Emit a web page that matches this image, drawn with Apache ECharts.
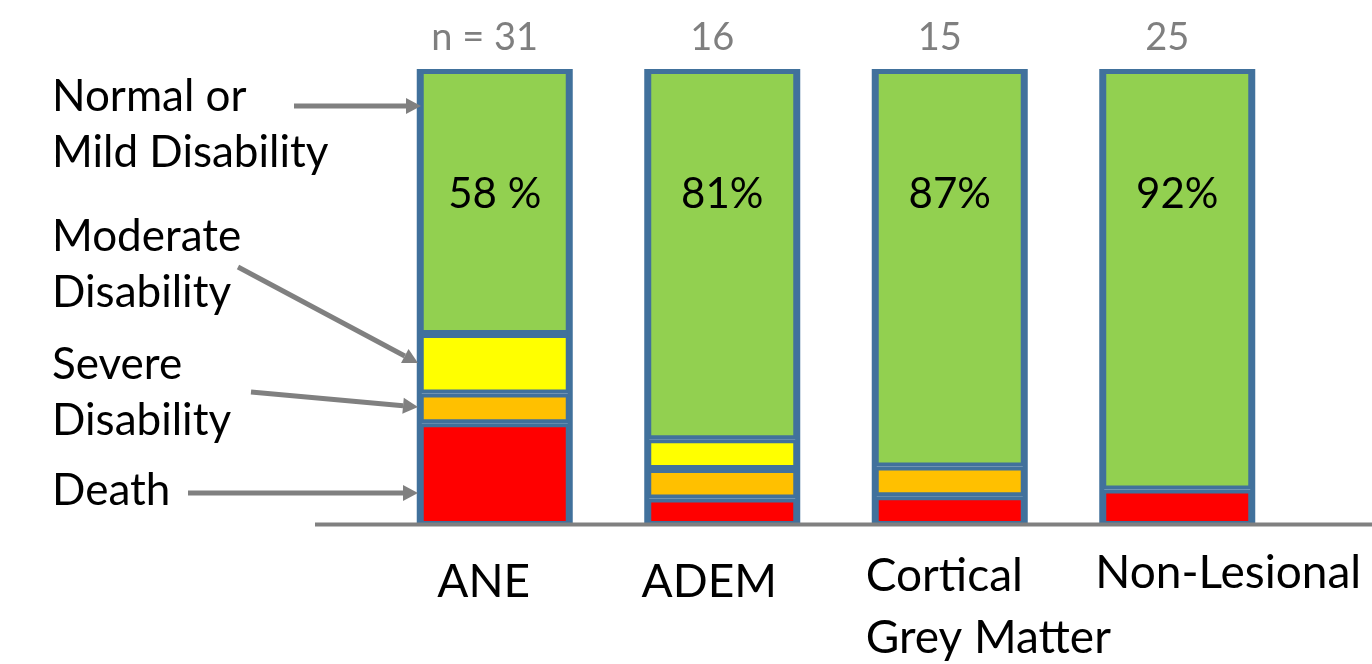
<!DOCTYPE html>
<html><head><meta charset="utf-8">
<script src="https://cdn.jsdelivr.net/npm/echarts@6/dist/echarts.min.js"></script>
<style>html,body{margin:0;padding:0;background:#fff}#c{width:1372px;height:664px}</style>
</head><body><div id="c"></div>
<script>
// ---- data ----
const categories = ['ANE', 'ADEM', 'Cortical\nGrey Matter', 'Non-Lesional'];
const nLabels = ['n = 31', '16', '15', '25'];
const pctLabels = ['58 %', '81%', '87%', '92%'];
const normalMild = [58, 81, 87, 92];
const moderate = [13, 6.5, 0, 0];
const severe = [6.5, 6.5, 6.5, 0];
const death = [22.5, 6, 6.5, 8];
const outcomeNames = ['Normal or\nMild Disability', 'Moderate\nDisability', 'Severe\nDisability', 'Death'];

// ---- chart ----
const FONT = 'Lato';
const chart = echarts.init(document.getElementById('c'), null, {renderer: 'canvas'});
const border = '#41719C';
const clean = arr => arr.map(v => (v === 0 ? null : v));
const totals = normalMild.map((v, i) => v + moderate[i] + severe[i] + death[i]);
function bar(name, data, color, extra) {
  return Object.assign({
    name: name, type: 'bar', stack: 'all', data: clean(data), barWidth: 150,
    itemStyle: {color: color, borderColor: border, borderWidth: 4},
    xAxisIndex: 0, yAxisIndex: 0
  }, extra || {});
}
const bottomStyles = ['a', 'b', 'c', 'd'];
const base = {fontSize: 46, fontFamily: FONT, color: '#000', lineHeight: 62};
function arrow(x1, y1, x2, y2) {
  const dx = x2 - x1, dy = y2 - y1, L = Math.hypot(dx, dy);
  const ux = dx / L, uy = dy / L, h = 15, w = 8;
  const bx = x2 - ux * h, by = y2 - uy * h;
  return [
    {type: 'line', shape: {x1: x1, y1: y1, x2: bx, y2: by}, style: {stroke: '#808080', lineWidth: 5}, z: 50},
    {type: 'polygon', shape: {points: [[x2, y2], [bx - uy * w, by + ux * w], [bx + uy * w, by - ux * w]]}, style: {fill: '#808080'}, z: 50}
  ];
}
function leftText(lines, ys) {
  return lines.map((t, i) => ({type: 'text', x: 52, y: ys[i], style: {text: t, font: '44px ' + FONT, fill: '#000', verticalAlign: 'middle'}, z: 50}));
}
const graphics = [].concat(
  [{type: 'line', shape: {x1: 315, y1: 524.5, x2: 1372, y2: 524.5}, style: {stroke: '#808080', lineWidth: 4}, z: 100}],
  leftText(['Normal or', 'Mild Disability'], [97, 153]),
  leftText(['Moderate', 'Disability'], [237, 293]),
  leftText(['Severe', 'Disability'], [365, 421]),
  leftText(['Death'], [491]),
  arrow(294, 106, 421, 106),
  arrow(238, 267, 418, 363),
  arrow(251, 392, 418, 407),
  arrow(188, 493, 418, 493)
);

chart.setOption({
  animation: false,
  backgroundColor: '#fff',
  grid: {left: 381, right: 81, top: 69, bottom: 138, containLabel: false},
  xAxis: [
    {type: 'category', data: categories, position: 'bottom',
     axisLine: {show: false}, axisTick: {show: false},
     axisLabel: {margin: 16, interval: 0,
       formatter: (v, i) => v.split('\n').map(s => '{' + bottomStyles[i] + '|' + s + '}').join('\n'),
       rich: {
         a: Object.assign({}, base, {padding: [18, 22, 0, 0]}),
         b: Object.assign({}, base, {padding: [18, 26, 0, 0]}),
         c: Object.assign({}, base, {width: 264, align: 'left', padding: [6, 0, 0, 96]}),
         d: Object.assign({}, base, {padding: [0, 0, 0, 102]})
       }}},
    {type: 'category', data: nLabels, position: 'top',
     axisLine: {show: false}, axisTick: {show: false},
     axisLabel: {margin: 12, interval: 0, color: '#7F7F7F', fontSize: 38, fontFamily: FONT,
       formatter: v => '{n|' + v + '}',
       rich: {n: {fontSize: 38, fontFamily: FONT, color: '#7F7F7F', padding: [0, 20, 0, 0]}}}}
  ],
  yAxis: {type: 'value', min: 0, max: 100, show: false},
  series: [
    bar(outcomeNames[3], death, '#FF0000'),
    bar(outcomeNames[2], severe, '#FFC000'),
    bar(outcomeNames[1], moderate, '#FFFF00'),
    bar(outcomeNames[0], normalMild, '#92D050', {
      label: {show: true, position: ['50%', 125], align: 'center', verticalAlign: 'middle',
        fontSize: 42, fontFamily: FONT, color: '#000',
        formatter: p => pctLabels[p.dataIndex]}
    }),
    {name: 'outline', type: 'bar', data: totals, xAxisIndex: 1, yAxisIndex: 0, barWidth: 156, z: 3,
     itemStyle: {color: 'rgba(0,0,0,0)', borderColor: border, borderWidth: 5}, silent: true}
  ],
  graphic: graphics
});
</script></body></html>
